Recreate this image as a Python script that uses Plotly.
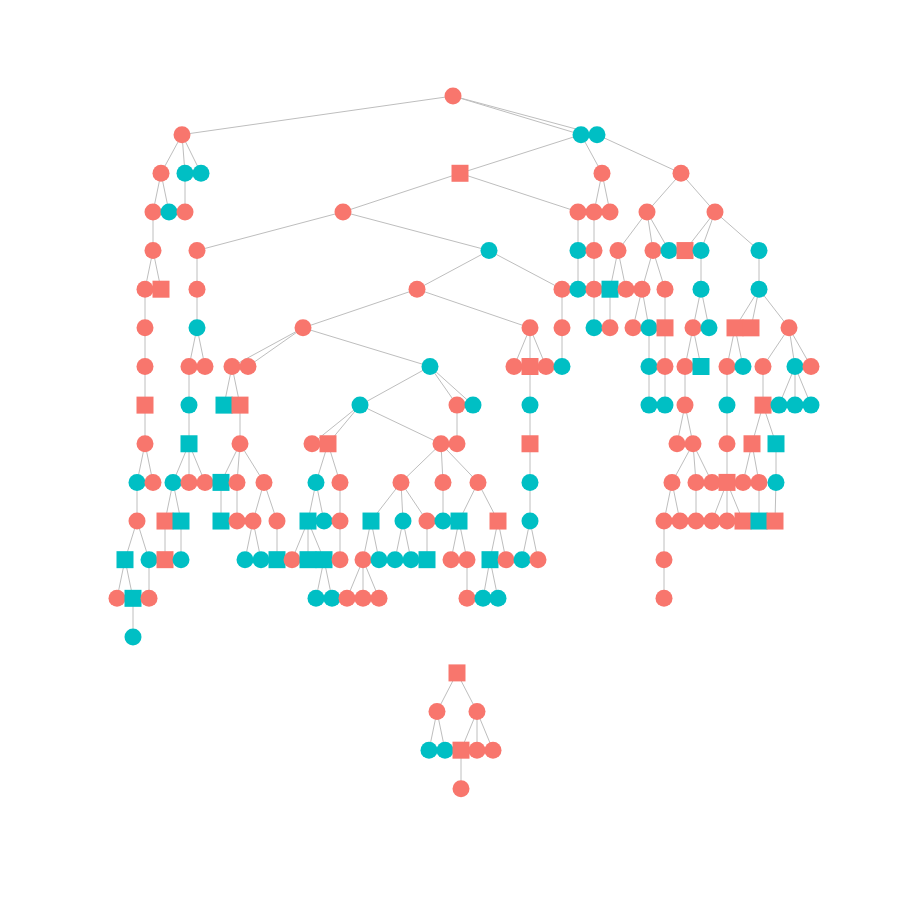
import plotly.graph_objects as go

# -----------------------------
# Node data (tree layout: x position, generation level)
# colour group: "a" = salmon, "b" = teal ; shape: "c" = circle, "s" = square
# parent = index of parent node, -1 for a root
# -----------------------------
node_x = [
    453,                                                        # level 0
    182, 581, 597,                                              # level 1
    161, 185, 201, 460, 602, 681,                               # level 2
    153, 169, 185, 343, 578, 594, 610, 647, 715,                # level 3
    153, 197, 489, 578, 594, 618, 653, 669, 685, 701, 759,      # level 4
    145, 161, 197, 417, 562, 578, 594, 610, 626, 642, 665, 701, 759,
    145, 197, 303, 530, 562, 594, 610, 633, 649, 665, 693, 709, 735, 751, 789,
    145, 189, 205, 232, 248, 430, 514, 530, 546, 562, 649, 665, 685, 701, 727, 743, 763, 795, 811,
    145, 189, 224, 240, 360, 457, 473, 530, 649, 665, 685, 727, 763, 779, 795, 811,
    145, 189, 240, 312, 328, 441, 457, 530, 677, 693, 727, 752, 776,
    137, 153, 173, 189, 205, 221, 237, 264, 316, 340, 401, 443, 478, 530, 672, 696, 712, 727, 743, 759, 776,
    137, 165, 181, 221, 237, 253, 277, 308, 324, 340, 371, 403, 427, 443, 459, 498, 530, 664, 680, 696, 712, 727, 743, 759, 775,
    125, 149, 165, 181, 245, 261, 277, 292, 308, 324, 340, 363, 379, 395, 411, 427, 451, 467, 490, 506, 522, 538, 664,
    117, 133, 149, 316, 332, 347, 363, 379, 467, 483, 498, 664,
    133,
    457,                                                        # second family
    437, 477,
    429, 445, 461, 477, 493,
    461,
]

node_level = (
    [0] * 1 + [1] * 3 + [2] * 6 + [3] * 9 + [4] * 11 + [5] * 13 + [6] * 15
    + [7] * 19 + [8] * 16 + [9] * 13 + [10] * 21 + [11] * 25 + [12] * 23
    + [13] * 12 + [14] * 1
    + [14.93] * 1 + [15.93] * 2 + [16.93] * 5 + [17.93] * 1
)

group_rows = [
    "a",
    "abb",
    "abbaaa",
    "abaaaaaaa",
    "aabbaaababb",
    "aaaaababaaabb",
    "abaaabaabaabaaa",
    "aaaaabaaabbaabababa",
    "abbababbbbababbb",
    "abaaaaaaaaaab",
    "babaabaabaaaabaaaaaab",
    "aabbaaabbabbabbabaaaaaaba",
    "bbabbbbabbaabbbbaababaa",
    "ababbaaaabba",
    "b",
    "a", "aa", "bbaaa", "a",
]

shape_rows = [
    "c",
    "ccc",
    "cccscc",
    "ccccccccc",
    "ccccccccscc",
    "cscccccsccccc",
    "cccccccccsccssc",
    "cccccccscccccsccccc",
    "scssccccccccsccc",
    "csccsccscccss",
    "cccccscccccccccccsccc",
    "csssccc" "scc" "sccc" "ss" "cccccc" "sss",
    "scscccscsscccccsccscccc",
    "cscccccccccc",
    "c",
    "s", "cc", "ccscc", "c",
]

node_group = list("".join(group_rows))
node_shape = list("".join(shape_rows))

node_parent = [
    -1,
    0, 0, 0,
    1, 1, 1, 2, 2, 3,
    4, 4, 5, 7, 7, 8, 8, 9, 9,
    10, 13, 13, 14, 15, 17, 17, 17, 18, 18, 18,
    19, 19, 20, 21, 21, 22, 23, 24, 24, 25, 25, 28, 29,
    30, 32, 33, 33, 34, 36, 37, 39, 39, 40, 41, 41, 42, 42, 42,
    43, 44, 44, 45, 45, 45, 46, 46, 46, 47, 51, 52, 53, 53, 55, 55, 57, 57, 57,
    58, 59, 61, 61, 63, 63, 63, 65, 68, 69, 70, 72, 74, 75, 75, 75,
    77, 78, 80, 81, 81, 81, 82, 84, 87, 87, 88, 89, 89,
    93, 93, 94, 94, 94, 95, 95, 95, 97, 97, 98, 98, 98, 100, 102, 102, 102, 103, 104, 104, 105,
    106, 108, 108, 111, 112, 113, 113, 114, 114, 115, 116, 116, 116, 117, 118, 118, 119, 120, 120, 121, 123, 123, 123, 125, 126,
    127, 127, 128, 129, 132, 132, 133, 134, 134, 134, 136, 137, 137, 138, 138, 139, 141, 141, 142, 142, 143, 143, 144,
    152, 152, 153, 161, 161, 163, 163, 163, 169, 170, 170, 174,
    176,
    -1,
    188, 188,
    189, 189, 190, 190, 190,
    193,
]

palette = {"a": "#F8766D", "b": "#00BFC4"}
symbols = {"c": "circle", "s": "square"}

# -----------------------------
# Edges
# -----------------------------
edge_x, edge_y = [], []
for i, p in enumerate(node_parent):
    if p < 0:
        continue
    edge_x += [node_x[p], node_x[i], None]
    edge_y += [node_level[p], node_level[i], None]

fig = go.Figure()
fig.add_trace(go.Scatter(
    x=edge_x, y=edge_y, mode="lines",
    line=dict(color="#BEBEBE", width=1),
    hoverinfo="skip", showlegend=False
))
fig.add_trace(go.Scatter(
    x=node_x, y=node_level, mode="markers",
    marker=dict(
        size=17,
        color=[palette[g] for g in node_group],
        symbol=[symbols[s] for s in node_shape],
        line=dict(width=0)
    ),
    showlegend=False
))

# level 0 at pixel 96, 38.64 px per generation (page has an 8px body offset)
px_per_level = 38.64
top = (-96 + 8) / px_per_level
bottom = (900 - 96 + 8) / px_per_level

fig.update_layout(
    width=900, height=900,
    margin=dict(l=0, r=0, t=0, b=0),
    plot_bgcolor="white", paper_bgcolor="white",
    xaxis=dict(range=[8, 908], visible=False),
    yaxis=dict(range=[bottom, top], visible=False),
)

fig.write_html("out.html")
